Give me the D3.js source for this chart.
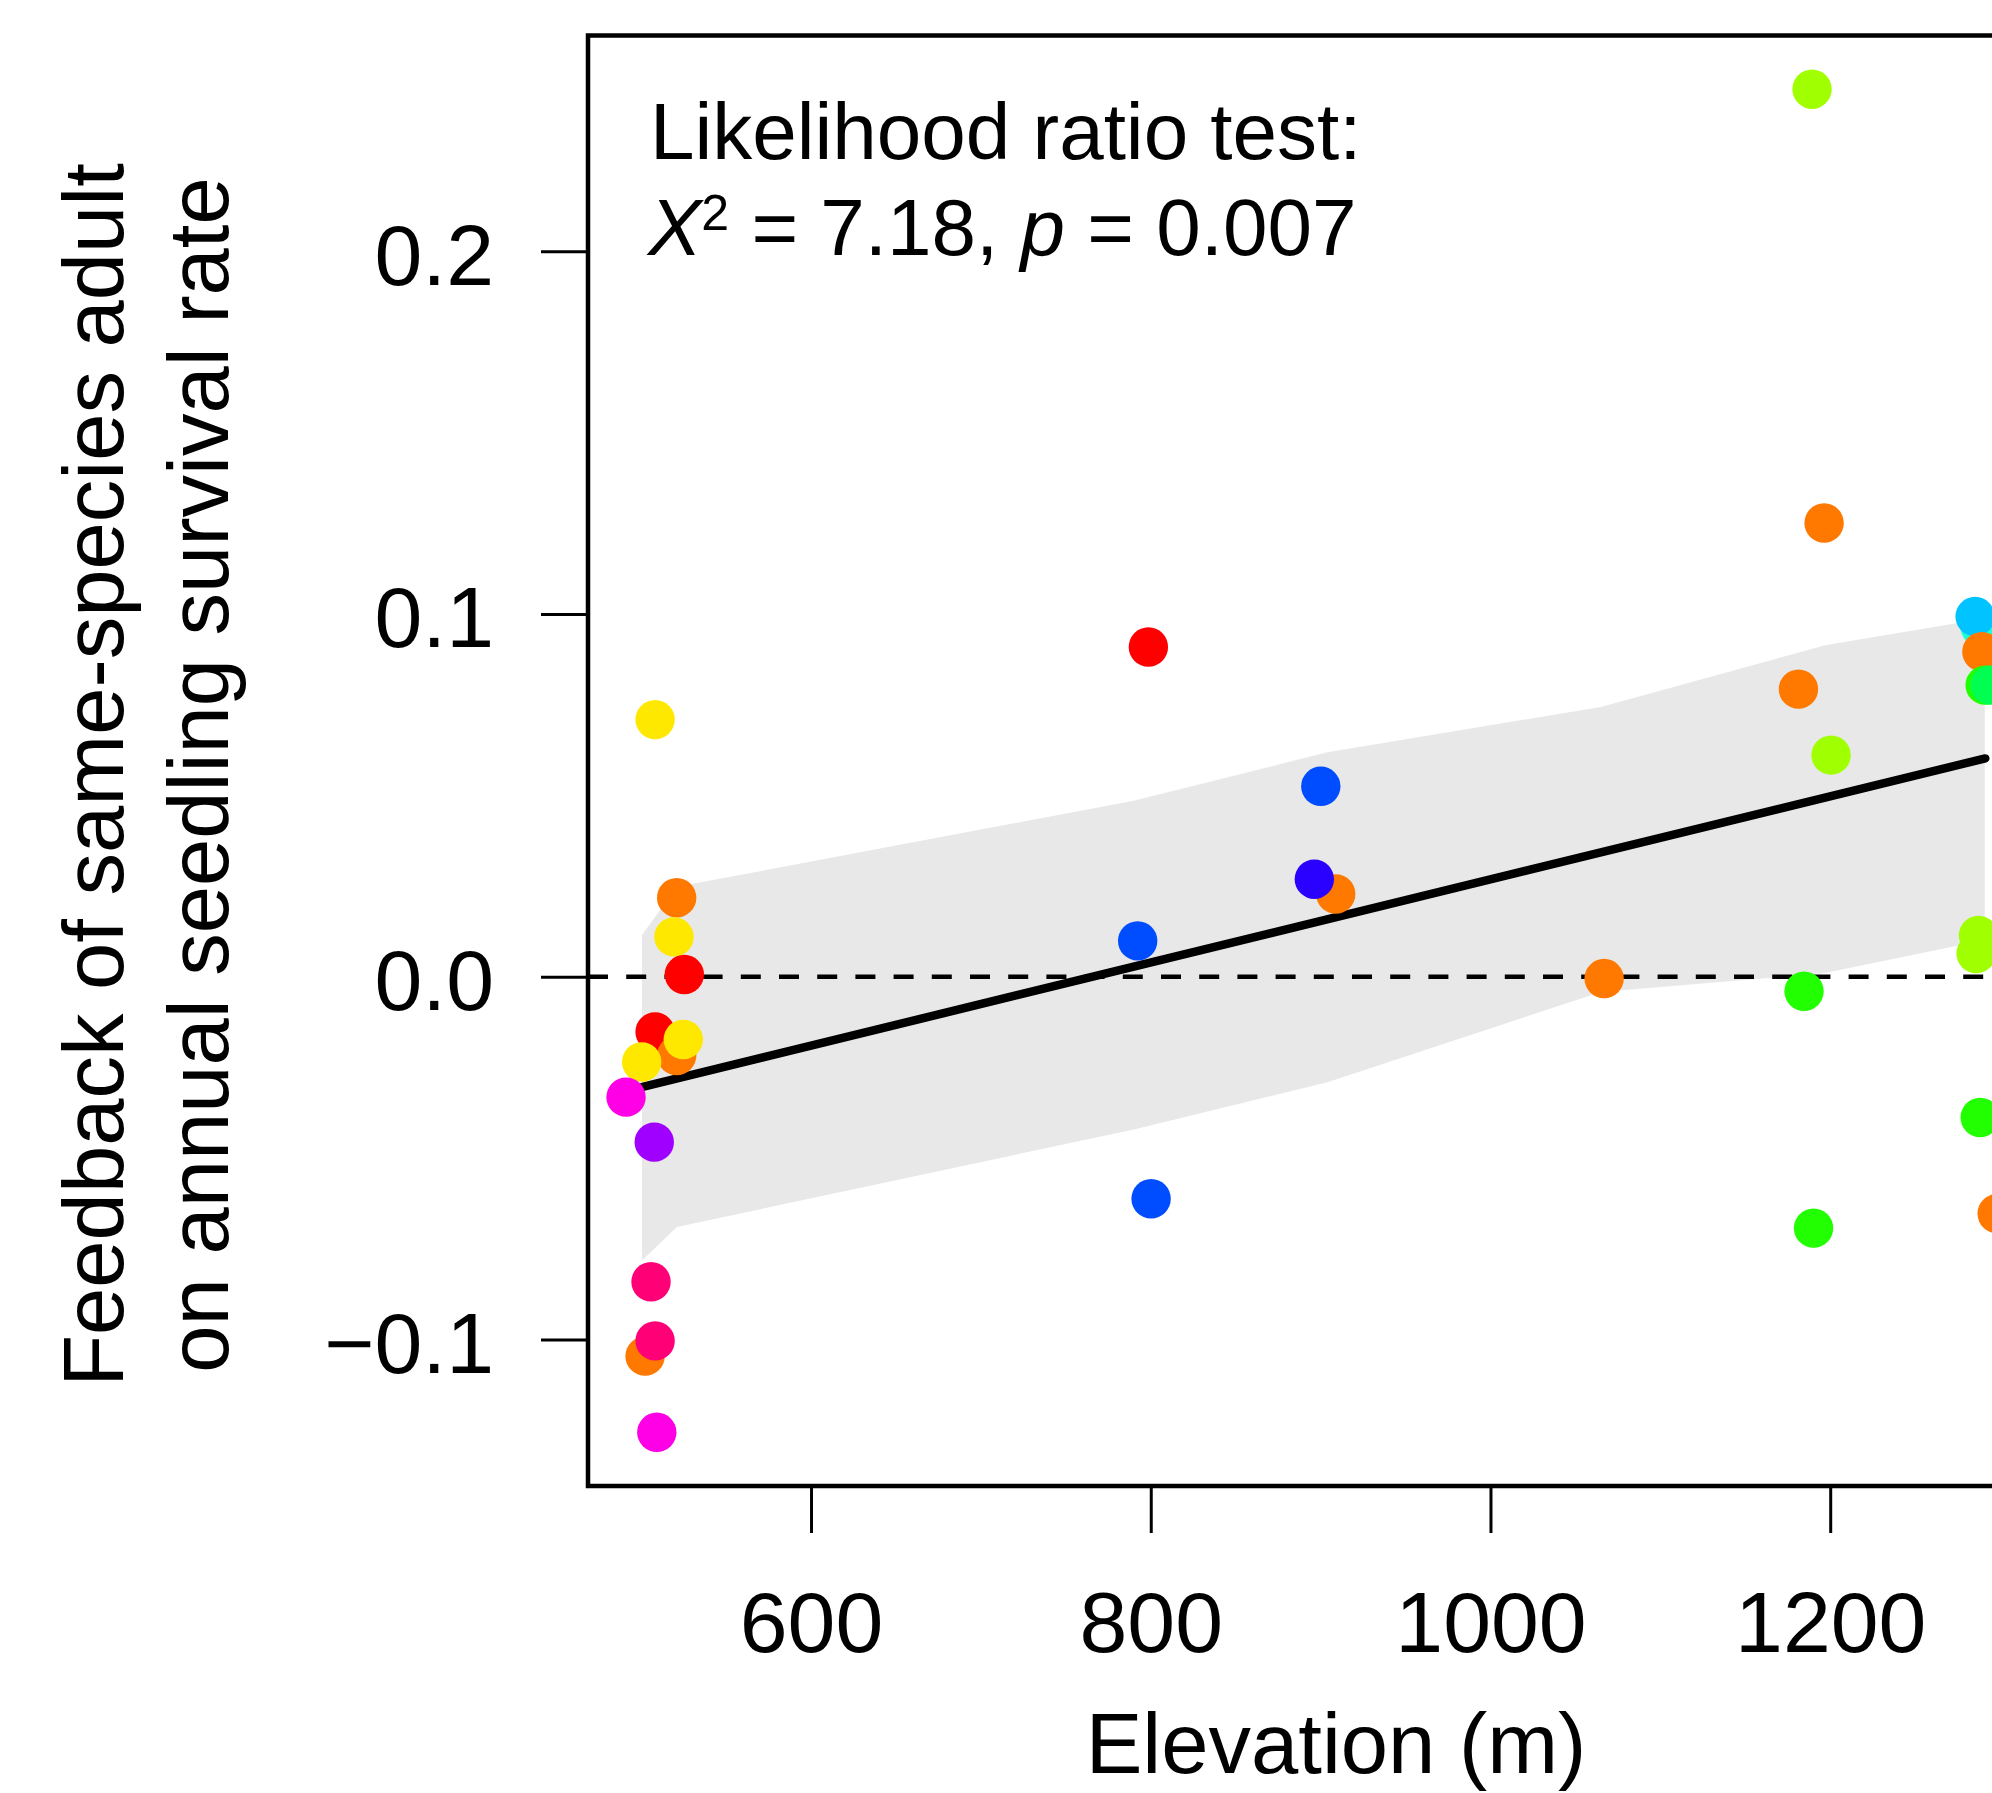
<!DOCTYPE html>
<html>
<head>
<meta charset="utf-8">
<script src="https://cdn.jsdelivr.net/npm/d3@7"></script>
<style>
  body { margin: 0; background: #fff; }
  svg text { font-family: "Liberation Sans", Arial, Helvetica, sans-serif; fill: #000; }
</style>
</head>
<body>
<div id="chart"></div>
<script>
'use strict';

// Points: elevation (m), feedback value, colour (species)
var pointElev = [
  508.2, 520.9, 519.3, 525.4, 508.2, 520.9, 524.8, 500.3, 491.1, 507.7,
  505.8, 502.3, 508.2, 509.2,
  798.6, 900.1, 908.9, 896.3, 792.3, 800.2, 1066.9,
  1189.3, 1196.4, 1181.3, 1200.5, 1184.6, 1190.2,
  1288.3, 1285.3, 1289.3, 1291.2, 1294.2, 1287.3, 1285.9, 1288.3, 1298.3
];
var pointFeedback = [
  0.0709, 0.0218, 0.0110, 0.0006, -0.0152, -0.0217, -0.0173, -0.0235, -0.0332, -0.0456,
  -0.0841, -0.1046, -0.1004, -0.1256,
  0.0909, 0.0525, 0.0228, 0.0269, 0.0099, -0.0612, -0.0005,
  0.2447, 0.1251, 0.0793, 0.0611, -0.0040, -0.0693,
  0.0965, 0.0993, 0.0896, 0.0804, 0.0804, 0.0114, 0.0064, -0.0388, -0.0653
];
var pointColor = [
  '#ffe800', '#ff7800', '#ffe800', '#ff0000', '#ff0000', '#ff7800', '#ffe800', '#ffe800', '#ff00e6', '#a000ff',
  '#ff0077', '#ff7800', '#ff0077', '#ff00e6',
  '#ff0000', '#004cff', '#ff7800', '#2a00ff', '#004cff', '#004cff', '#ff7800',
  '#a0ff00', '#ff7800', '#ff7800', '#a0ff00', '#22ff00', '#22ff00',
  '#1affd5', '#00c3ff', '#ff7800', '#22ff00', '#00ff50', '#a0ff00', '#a0ff00', '#22ff00', '#ff7800'
];

// Confidence band of the fitted model
var bandElev  = [500.5, 521, 790, 904, 1065, 1197, 1291];
var bandLower = [-0.0782, -0.0690, -0.0421, -0.0291, -0.0042, 0.0010, 0.0101];
var bandUpper = [0.0115, 0.0248, 0.0485, 0.0619, 0.0744, 0.0914, 0.0988];

// Fitted line
var fitElev  = [500.3, 1291.3];
var fitValue = [-0.0304, 0.0602];

var xTicks = [600, 800, 1000, 1200];
var yTicks = [-0.1, 0.0, 0.1, 0.2];

function drawChart() {
  var W = 1992, H = 1793;
  var plotL = 588, plotT = 35.5, plotB = 1486, plotR = 2085;

  var svg = d3.select('#chart').append('svg')
    .attr('width', W)
    .attr('height', H);

  var x = d3.scaleLinear().domain([468.7, 1350]).range([plotL, plotR]);
  var y = d3.scaleLinear().domain([-0.1404, 0.2595]).range([plotB, plotT]);

  // band
  var bandData = bandElev.map(function (e, i) { return { e: e, lo: bandLower[i], hi: bandUpper[i] }; });
  svg.append('path')
    .datum(bandData)
    .attr('fill', '#e8e8e8')
    .attr('d', d3.area()
      .x(function (d) { return x(d.e); })
      .y0(function (d) { return y(d.lo); })
      .y1(function (d) { return y(d.hi); }));

  // zero reference line
  svg.append('line')
    .attr('x1', plotL).attr('x2', plotR)
    .attr('y1', y(0)).attr('y2', y(0))
    .attr('stroke', '#000')
    .attr('stroke-width', 4.5)
    .attr('stroke-dasharray', '20 18.2');

  // fitted line
  svg.append('path')
    .datum(fitElev.map(function (e, i) { return [e, fitValue[i]]; }))
    .attr('fill', 'none')
    .attr('stroke', '#000')
    .attr('stroke-width', 8.5)
    .attr('stroke-linecap', 'round')
    .attr('d', d3.line()
      .x(function (d) { return x(d[0]); })
      .y(function (d) { return y(d[1]); }));

  // points
  svg.append('g')
    .selectAll('circle')
    .data(pointElev)
    .join('circle')
    .attr('cx', function (d) { return x(d); })
    .attr('cy', function (d, i) { return y(pointFeedback[i]); })
    .attr('r', 19.7)
    .attr('fill', function (d, i) { return pointColor[i]; });

  // box (right side falls outside the picture)
  svg.append('rect')
    .attr('x', plotL).attr('y', plotT)
    .attr('width', plotR - plotL).attr('height', plotB - plotT)
    .attr('fill', 'none')
    .attr('stroke', '#000')
    .attr('stroke-width', 4.5);

  // axes
  var fmtY = function (d) { return d < 0 ? '\u2212' + Math.abs(d).toFixed(1) : d.toFixed(1); };

  var yAxis = svg.append('g')
    .attr('transform', 'translate(' + plotL + ',0)')
    .call(d3.axisLeft(y).tickValues(yTicks).tickFormat(fmtY).tickSize(47).tickPadding(47));
  var xAxis = svg.append('g')
    .attr('transform', 'translate(0,' + plotB + ')')
    .call(d3.axisBottom(x).tickValues(xTicks).tickFormat(d3.format('d')).tickSize(47).tickPadding(58));

  [xAxis, yAxis].forEach(function (ax) {
    ax.select('.domain').remove();
    ax.selectAll('.tick line').attr('stroke', '#000').attr('stroke-width', 3);
    ax.selectAll('.tick text')
      .attr('fill', '#000')
      .style('font-family', '"Liberation Sans", Arial, sans-serif')
      .style('font-size', '86px');
  });
  yAxis.selectAll('.tick text').attr('dy', '0.38em');

  // axis titles
  svg.append('text')
    .attr('x', 1336).attr('y', 1773)
    .attr('text-anchor', 'middle')
    .style('font-size', '85px')
    .text('Elevation (m)');

  svg.append('text')
    .attr('transform', 'translate(123,775) rotate(-90)')
    .attr('text-anchor', 'middle')
    .style('font-size', '85px')
    .text('Feedback of same-species adult');
  svg.append('text')
    .attr('transform', 'translate(228,775) rotate(-90)')
    .attr('text-anchor', 'middle')
    .style('font-size', '85px')
    .text('on annual seedling survival rate');

  // test annotation
  svg.append('text')
    .attr('x', 650).attr('y', 159)
    .style('font-size', '80px')
    .text('Likelihood ratio test:');

  var stat = svg.append('text')
    .attr('x', 648).attr('y', 255)
    .style('font-size', '80px');
  stat.append('tspan').style('font-style', 'italic').text('X');
  stat.append('tspan').attr('dy', -25).style('font-size', '50px').text('2');
  stat.append('tspan').attr('dy', 25).text(' = 7.18, ');
  stat.append('tspan').style('font-style', 'italic').text('p');
  stat.append('tspan').text(' = 0.007');
}

drawChart();
</script>
</body>
</html>
